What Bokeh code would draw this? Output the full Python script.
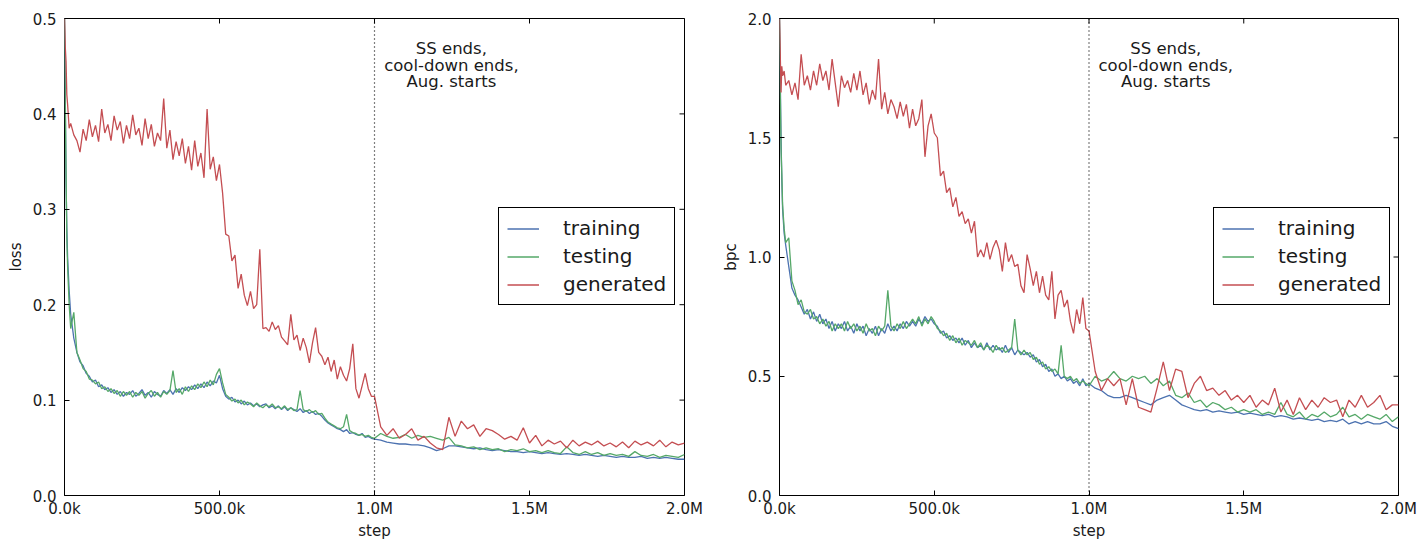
import math
from bokeh.plotting import figure
from bokeh.models import (Range1d, FixedTicker, Span, Legend, LegendItem,
                          ColumnDataSource)
from bokeh.layouts import row
from bokeh.core.properties import value
from bokeh.embed import file_html
from bokeh.resources import INLINE

# ---------------- data ----------------
# steps in thousands
steps_pre_k = [0, 2.5, 5, 7.5, 10, 15] + list(range(20, 1001, 10))
steps_post_k = list(range(1020, 2001, 20))

loss_train_pre = [
    0.500, 0.420, 0.330, 0.280, 0.250, 0.215,
    0.190, 0.165, 0.150, 0.140, 0.136, 0.128, 0.125, 0.119, 0.121,
    0.114, 0.116, 0.111, 0.113, 0.108, 0.111, 0.106, 0.109, 0.104, 0.108,
    0.106, 0.110, 0.104, 0.107, 0.111, 0.105, 0.108, 0.103, 0.109, 0.106,
    0.104, 0.110, 0.107, 0.111, 0.106, 0.112, 0.108, 0.113, 0.110, 0.114,
    0.111, 0.116, 0.112, 0.117, 0.113, 0.119, 0.115, 0.120, 0.118, 0.126,
    0.112, 0.104, 0.101, 0.103, 0.098, 0.100, 0.096, 0.099, 0.095, 0.097,
    0.094, 0.096, 0.093, 0.095, 0.096, 0.092, 0.094, 0.091, 0.094, 0.090,
    0.093, 0.089, 0.092, 0.090, 0.088, 0.091, 0.087, 0.089, 0.086, 0.088,
    0.085, 0.086, 0.083, 0.079, 0.076, 0.074, 0.072, 0.070, 0.069, 0.067,
    0.069, 0.065, 0.066, 0.064, 0.063, 0.065, 0.061, 0.062, 0.060, 0.059]
loss_test_pre = [
    0.500, 0.410, 0.340, 0.270, 0.240, 0.200,
    0.175, 0.192, 0.150, 0.142, 0.133, 0.130, 0.122, 0.121, 0.117,
    0.119, 0.112, 0.114, 0.109, 0.112, 0.107, 0.110, 0.104, 0.109, 0.105,
    0.109, 0.103, 0.108, 0.105, 0.109, 0.102, 0.107, 0.110, 0.104, 0.108,
    0.103, 0.109, 0.106, 0.110, 0.131, 0.108, 0.112, 0.106, 0.114, 0.109,
    0.115, 0.111, 0.117, 0.113, 0.119, 0.114, 0.121, 0.116, 0.127, 0.133,
    0.118, 0.106, 0.103, 0.099, 0.101, 0.097, 0.100, 0.095, 0.098, 0.096,
    0.093, 0.097, 0.094, 0.092, 0.095, 0.093, 0.096, 0.092, 0.093, 0.091,
    0.094, 0.090, 0.092, 0.089, 0.090, 0.110, 0.090, 0.088, 0.090, 0.087,
    0.089, 0.085, 0.086, 0.081, 0.077, 0.075, 0.073, 0.071, 0.070, 0.072,
    0.085, 0.068, 0.066, 0.065, 0.063, 0.064, 0.062, 0.063, 0.061, 0.060]
loss_gen_pre = [
    0.500, 0.470, 0.455, 0.420, 0.410, 0.385,
    0.390, 0.378, 0.372, 0.360, 0.384, 0.372, 0.394, 0.376, 0.388,
    0.371, 0.405, 0.380, 0.389, 0.372, 0.398, 0.383, 0.392, 0.369, 0.388,
    0.374, 0.399, 0.378, 0.385, 0.367, 0.395, 0.374, 0.389, 0.366, 0.380,
    0.372, 0.416, 0.364, 0.383, 0.352, 0.371, 0.356, 0.374, 0.348, 0.366,
    0.341, 0.372, 0.345, 0.359, 0.333, 0.405, 0.342, 0.355, 0.330, 0.347,
    0.317, 0.274, 0.272, 0.246, 0.252, 0.217, 0.232, 0.210, 0.199, 0.214,
    0.196, 0.200, 0.258, 0.175, 0.176, 0.172, 0.182, 0.174, 0.178, 0.166,
    0.162, 0.158, 0.190, 0.163, 0.168, 0.152, 0.165, 0.155, 0.139, 0.160,
    0.176, 0.150, 0.146, 0.137, 0.145, 0.130, 0.142, 0.122, 0.135, 0.126,
    0.120, 0.133, 0.159, 0.112, 0.102, 0.115, 0.128, 0.112, 0.104, 0.104]
loss_train_post = [
    0.058, 0.056, 0.055, 0.054, 0.054, 0.053, 0.053, 0.052, 0.050, 0.047,
    0.049, 0.052, 0.052, 0.051, 0.050, 0.049, 0.050, 0.048, 0.047, 0.048,
    0.047, 0.046, 0.046, 0.045, 0.046, 0.045, 0.044, 0.045, 0.044, 0.043,
    0.044, 0.043, 0.042, 0.043, 0.042, 0.041, 0.042, 0.041, 0.040, 0.041,
    0.040, 0.040, 0.041, 0.039, 0.040, 0.039, 0.040, 0.039, 0.038, 0.038]
loss_test_post = [
    0.065, 0.062, 0.060, 0.061, 0.064, 0.060, 0.063, 0.061, 0.062, 0.060,
    0.058, 0.061, 0.053, 0.052, 0.050, 0.051, 0.048, 0.050, 0.048, 0.049,
    0.046, 0.048, 0.047, 0.049, 0.046, 0.047, 0.045, 0.047, 0.045, 0.044,
    0.051, 0.045, 0.043, 0.046, 0.043, 0.045, 0.042, 0.044, 0.042, 0.043,
    0.041, 0.046, 0.042, 0.041, 0.043, 0.040, 0.042, 0.041, 0.040, 0.043]
loss_gen_post = [
    0.072, 0.063, 0.070, 0.060, 0.064, 0.070, 0.058, 0.062, 0.055, 0.050,
    0.048, 0.082, 0.062, 0.078, 0.070, 0.074, 0.062, 0.070, 0.068, 0.064,
    0.059, 0.062, 0.058, 0.071, 0.055, 0.063, 0.052, 0.058, 0.054, 0.057,
    0.050, 0.058, 0.052, 0.056, 0.053, 0.057, 0.052, 0.055, 0.051, 0.056,
    0.050, 0.057, 0.053, 0.056, 0.052, 0.058, 0.051, 0.056, 0.053, 0.055]

bpc_train_pre = [
    2.00, 1.75, 1.50, 1.32, 1.20, 1.10,
    1.05, 0.96, 0.87, 0.84, 0.82, 0.79, 0.76, 0.78, 0.74,
    0.77, 0.73, 0.76, 0.72, 0.74, 0.70, 0.73, 0.69, 0.72, 0.70,
    0.73, 0.69, 0.71, 0.68, 0.72, 0.69, 0.71, 0.67, 0.70, 0.68,
    0.71, 0.67, 0.70, 0.68, 0.72, 0.69, 0.71, 0.69, 0.72, 0.70,
    0.73, 0.71, 0.73, 0.71, 0.74, 0.72, 0.75, 0.73, 0.74, 0.72,
    0.71, 0.68, 0.69, 0.66, 0.67, 0.65, 0.66, 0.64, 0.66, 0.63,
    0.65, 0.62, 0.64, 0.62, 0.63, 0.61, 0.64, 0.61, 0.63, 0.61,
    0.62, 0.60, 0.63, 0.60, 0.62, 0.59, 0.61, 0.60, 0.59, 0.60,
    0.58, 0.59, 0.56, 0.57, 0.54, 0.55, 0.52, 0.53, 0.50, 0.51,
    0.49, 0.50, 0.48, 0.49, 0.47, 0.48, 0.46, 0.49, 0.46, 0.47]
bpc_test_pre = [
    2.00, 1.70, 1.45, 1.35, 1.22, 1.12,
    1.06, 1.08, 0.90, 0.86, 0.80, 0.82, 0.77, 0.76, 0.78,
    0.74, 0.75, 0.72, 0.74, 0.71, 0.73, 0.69, 0.72, 0.70, 0.72,
    0.69, 0.73, 0.70, 0.72, 0.69, 0.71, 0.68, 0.72, 0.69, 0.70,
    0.67, 0.71, 0.69, 0.71, 0.86, 0.71, 0.69, 0.72, 0.70, 0.73,
    0.70, 0.72, 0.74, 0.72, 0.75, 0.71, 0.74, 0.72, 0.75, 0.73,
    0.70, 0.69, 0.67, 0.68, 0.65, 0.67, 0.64, 0.66, 0.63, 0.65,
    0.64, 0.63, 0.65, 0.62, 0.64, 0.61, 0.63, 0.62, 0.60, 0.63,
    0.61, 0.62, 0.60, 0.61, 0.62, 0.74, 0.61, 0.59, 0.61, 0.59,
    0.60, 0.57, 0.58, 0.55, 0.56, 0.53, 0.54, 0.52, 0.53, 0.51,
    0.63, 0.50, 0.49, 0.50, 0.48, 0.49, 0.47, 0.48, 0.47, 0.46]
bpc_gen_pre = [
    2.00, 1.85, 1.69, 1.80, 1.76, 1.78,
    1.72, 1.74, 1.68, 1.73, 1.66, 1.85, 1.72, 1.76, 1.70,
    1.78, 1.72, 1.81, 1.74, 1.78, 1.70, 1.83, 1.73, 1.63, 1.76,
    1.71, 1.74, 1.69, 1.77, 1.70, 1.78, 1.68, 1.73, 1.64, 1.70,
    1.66, 1.83, 1.62, 1.69, 1.60, 1.66, 1.63, 1.58, 1.65, 1.59,
    1.64, 1.54, 1.62, 1.55, 1.58, 1.66, 1.42, 1.55, 1.60, 1.52,
    1.50, 1.34, 1.36, 1.27, 1.29, 1.21, 1.25, 1.17, 1.19, 1.14,
    1.16, 1.10, 1.15, 1.00, 1.03, 1.00, 1.06, 0.99, 1.04, 1.07,
    1.03, 0.94, 1.06, 0.98, 1.01, 0.96, 0.97, 0.88, 0.85, 1.01,
    0.95, 0.88, 0.94, 0.85, 0.92, 0.84, 0.82, 0.94, 0.74, 0.84,
    0.86, 0.79, 0.82, 0.73, 0.68, 0.78, 0.72, 0.83, 0.70, 0.69]
bpc_train_post = [
    0.45, 0.44, 0.42, 0.41, 0.41, 0.42, 0.41, 0.40, 0.39, 0.38,
    0.40, 0.41, 0.42, 0.40, 0.38, 0.37, 0.36, 0.355, 0.36, 0.35,
    0.355, 0.35, 0.345, 0.35, 0.34, 0.345, 0.34, 0.335, 0.34, 0.33,
    0.335, 0.33, 0.32, 0.325, 0.32, 0.315, 0.32, 0.31, 0.315, 0.31,
    0.32, 0.30, 0.31, 0.30, 0.31, 0.30, 0.30, 0.31, 0.29, 0.28]
bpc_test_post = [
    0.50, 0.48, 0.49, 0.52, 0.49, 0.48, 0.50, 0.49, 0.50, 0.47,
    0.49, 0.46, 0.48, 0.42, 0.41, 0.43, 0.39, 0.40, 0.37, 0.39,
    0.38, 0.36, 0.37, 0.35, 0.36, 0.35, 0.36, 0.34, 0.35, 0.34,
    0.39, 0.34, 0.33, 0.35, 0.32, 0.34, 0.33, 0.35, 0.33, 0.34,
    0.37, 0.33, 0.34, 0.32, 0.34, 0.33, 0.32, 0.34, 0.31, 0.33]
bpc_gen_post = [
    0.52, 0.44, 0.49, 0.46, 0.49, 0.38, 0.49, 0.37, 0.36, 0.35,
    0.45, 0.56, 0.44, 0.53, 0.52, 0.41, 0.47, 0.50, 0.44, 0.45,
    0.42, 0.44, 0.40, 0.42, 0.39, 0.42, 0.37, 0.40, 0.38, 0.45,
    0.35, 0.40, 0.34, 0.41, 0.36, 0.40, 0.37, 0.41, 0.39, 0.40,
    0.33, 0.40, 0.37, 0.42, 0.37, 0.39, 0.42, 0.36, 0.38, 0.38]

x_ticks = [0, 500000, 1000000, 1500000, 2000000]
x_tick_labels = ["0.0k", "500.0k", "1.0M", "1.5M", "2.0M"]
loss_ticks = [0.0, 0.1, 0.2, 0.3, 0.4, 0.5]
bpc_ticks = [0.0, 0.5, 1.0, 1.5, 2.0]
series_names = ["training", "testing", "generated"]
series_colors = ["#4C72B0", "#55A868", "#C44E52"]
event_step = 1000000
event_text = "SS ends,\ncool-down ends,\nAug. starts"

FONT = "DejaVu Sans"
TXT = "#1a1a1a"
XMAX = 2000000

steps = [s * 1000 for s in steps_pre_k + steps_post_k]


def make_panel(ylabel, ymax, yticks, series, text_y, width, min_left, min_right):
    p = figure(width=width, height=542, output_backend="svg", toolbar_location=None,
               x_range=Range1d(0, XMAX), y_range=Range1d(0, ymax),
               min_border_left=min_left, min_border_right=min_right,
               min_border_top=18, min_border_bottom=44)
    p.xgrid.visible = False
    p.ygrid.visible = False
    p.outline_line_color = "black"
    p.outline_line_width = 1
    p.background_fill_color = "white"
    p.border_fill_color = "white"

    xa = p.xaxis[0]
    xa.ticker = FixedTicker(ticks=x_ticks)
    xa.major_label_overrides = {t: l for t, l in zip(x_ticks, x_tick_labels)}
    ya = p.yaxis[0]
    ya.ticker = FixedTicker(ticks=yticks)
    ya.major_label_overrides = {t: f"{t:.1f}" for t in yticks}
    xa.axis_label = "step"
    ya.axis_label = ylabel
    for ax in (xa, ya):
        ax.minor_tick_line_color = None
        ax.major_tick_in = 5
        ax.major_tick_out = 0
        ax.major_tick_line_color = "black"
        ax.axis_line_color = None
        ax.major_label_text_font = FONT
        ax.major_label_text_font_size = "15px"
        ax.major_label_text_color = TXT
        ax.axis_label_text_font = FONT
        ax.axis_label_text_font_size = "15px"
        ax.axis_label_text_font_style = "normal"
        ax.axis_label_text_color = TXT
    xa.major_label_standoff = 4
    xa.axis_label_standoff = 1
    ya.major_label_standoff = 8
    ya.axis_label_standoff = 5

    # mirrored inward ticks on top and right edges (half of each dash is clipped)
    p.scatter(x=x_ticks, y=[ymax] * len(x_ticks), marker="dash", size=10,
              angle=math.pi / 2, line_color="black", line_width=1)
    p.scatter(x=[XMAX] * len(yticks), y=yticks, marker="dash", size=10,
              line_color="black", line_width=1)

    items = []
    for name, color, ys in zip(series_names, series_colors, series):
        r = p.line(steps, ys, line_color=color, line_width=1.3)
        items.append(LegendItem(label=name, renderers=[r]))

    p.add_layout(Span(location=event_step, dimension="height", line_color="black",
                      line_width=1.2, line_dash="1 3"))

    src = ColumnDataSource(dict(x=[1248000], y=[text_y], t=[event_text]))
    p.text(x="x", y="y", text="t", source=src, text_align="center",
           text_baseline="middle", text_font=value(FONT), text_font_size="16.5px",
           text_color=TXT, text_line_height=0.88)

    leg = Legend(items=items, location=(434, 190), orientation="vertical")
    leg.border_line_color = "black"
    leg.border_line_width = 1
    leg.border_line_alpha = 1
    leg.background_fill_alpha = 1
    leg.label_text_font = FONT
    leg.label_text_font_size = "20px"
    leg.label_text_color = TXT
    leg.glyph_width = 32
    leg.glyph_height = 23
    leg.label_height = 23
    leg.label_standoff = 24
    leg.padding = 8
    leg.spacing = 4
    leg.margin = 0
    p.add_layout(leg, "center")
    return p


p1 = make_panel("loss", 0.5, loss_ticks,
                [loss_train_pre + loss_train_post,
                 loss_test_pre + loss_test_post,
                 loss_gen_pre + loss_gen_post], 0.451, 713, 64, 29)
p2 = make_panel("bpc", 2.0, bpc_ticks,
                [bpc_train_pre + bpc_train_post,
                 bpc_test_pre + bpc_test_post,
                 bpc_gen_pre + bpc_gen_post], 1.804, 710, 66, 25)

layout = row(p1, p2)
open("out.html", "w").write(file_html(layout, INLINE))
